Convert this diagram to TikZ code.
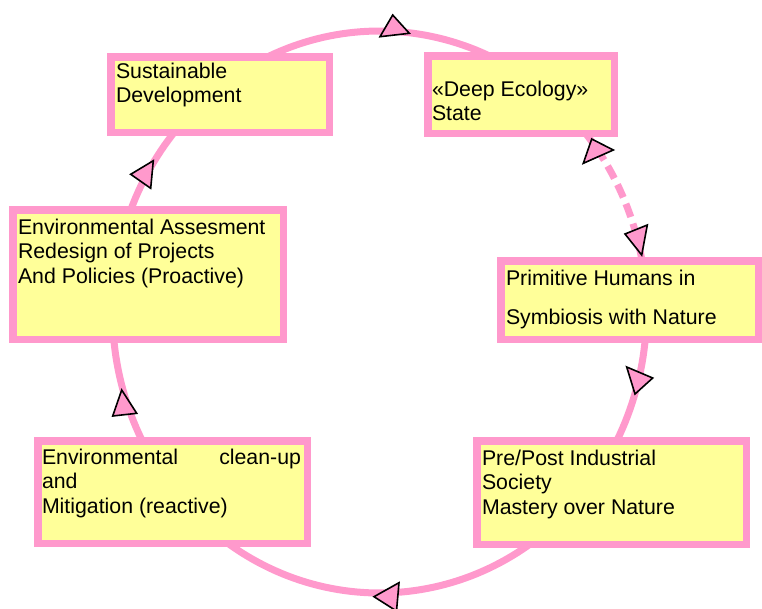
\documentclass[tikz,border=0pt]{standalone}
\usepackage{fontspec}
\setmainfont{Liberation Sans}
\definecolor{pinkc}{HTML}{FF99CC}
\definecolor{yellowc}{HTML}{FFFF99}
\begin{document}
\begin{tikzpicture}[x=1pt,y=-1pt,
  box/.style={draw=pinkc, fill=yellowc, line width=7.5pt, inner sep=0pt, outer sep=0pt},
  txt/.style={inner sep=0pt, outer sep=0pt, anchor=north west, align=left, font=\fontsize{21.3}{24.5}\selectfont},
  ring/.style={draw=pinkc, line width=7pt},
  head/.style={draw=black, fill=pinkc, line width=1.6pt, line join=miter}]
\useasboundingbox (0,0) rectangle (762,608);
% cycle ring (ellipse), solid part and dashed part
\draw[ring] plot[domain=-10:320, samples=240] ({379.5+267*cos(\x)},{312+281*sin(\x)});
\draw[ring, dash pattern=on 14pt off 7pt] plot[domain=-40:-10, samples=40] ({379.5+267*cos(\x)},{312+281*sin(\x)});
% boxes
\node[box, minimum width=218.5pt, minimum height=75.5pt] (b1) at (220,94.5) {};
\node[box, minimum width=186.5pt, minimum height=77.5pt] (b2) at (521,94.5) {};
\node[box, minimum width=257.5pt, minimum height=78.5pt] (b3) at (629.5,300) {};
\node[box, minimum width=270.5pt, minimum height=129.5pt] (b4) at (148,274.5) {};
\node[box, minimum width=269.5pt, minimum height=103.5pt] (b5) at (611.5,492.5) {};
\node[box, minimum width=269.5pt, minimum height=102.5pt] (b6) at (172.5,492) {};
% texts
\node[txt] (t1) at (116,63) {Sustainable\\Development};
\node[txt] (t2) at (432,80.75) {«Deep Ecology»\\State};
\node[txt] (t3) at (18,218.75) {Environmental Assesment\\Redesign of Projects\\And Policies (Proactive)};
\node[txt] (t4) at (506,269.75) {Primitive Humans in\\[14.5pt]Symbiosis with Nature};
\node[txt] (t5) at (482,449.75) {Pre/Post Industrial\\Society\\Mastery over Nature};
\node[txt] (t6) at (42,448.75) {\makebox[259pt][s]{Environmental\hfill clean-up}\\and\\Mitigation (reactive)};
% arrowheads
\draw[head] (392.7,15) -- (380,36.7) -- (409.3,33.3) -- cycle;
\draw[head] (374,596.7) -- (399,582.7) -- (396.5,611) -- cycle;
\draw[head] (626.7,367) -- (652.7,378) -- (635,394) -- cycle;
\draw[head] (121.7,390) -- (112.7,416) -- (136.7,413.3) -- cycle;
\draw[head] (153.3,160.7) -- (130.7,174.3) -- (150.7,188.3) -- cycle;
\draw[head] (591.7,139) -- (613.3,150) -- (583.3,163.3) -- cycle;
\draw[head] (625,234) -- (647.3,225) -- (641.7,255) -- cycle;
\end{tikzpicture}
\end{document}
